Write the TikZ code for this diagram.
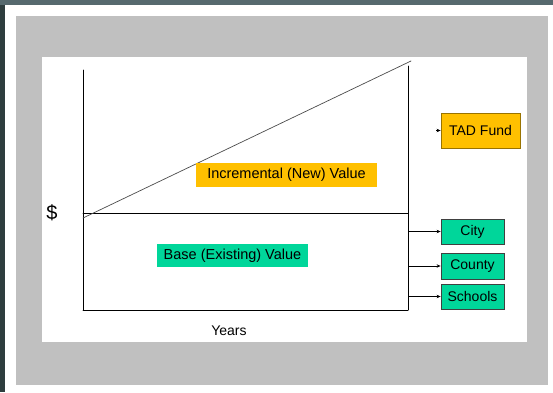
\documentclass[tikz,border=0pt]{standalone}
\usepackage{fontspec}
\setmainfont{Liberation Sans}
\usepackage{tikz}
\usepackage{tkz-euclide}
\usetikzlibrary{arrows.meta}
\definecolor{slate}{HTML}{56696E}
\definecolor{slatedark}{HTML}{2E3D3E}
\definecolor{panel}{HTML}{C0C0C0}
\definecolor{gold}{HTML}{FFC000}
\definecolor{jade}{HTML}{00D69A}
\tikzset{
    valuebox/.style={inner sep=0pt,font=\fontsize{14.5}{16}\selectfont},
    fundbox/.style={draw=black!75,fill=jade,line width=0.8pt,minimum width=63pt,minimum height=25pt,inner sep=0pt,font=\fontsize{14}{16}\selectfont},
    fundarrow/.style={-{Stealth[length=4pt,width=3.5pt]},line width=0.7pt}
}

\begin{document}
\begin{tikzpicture}[x=1pt,y=-1pt]
    \useasboundingbox (0,0) rectangle (553,392);
    \fill[slate] (0,0) rectangle (553,392);
    \fill[slatedark] (0,5) rectangle (5,392);
    \fill[white] (5,5) rectangle (553,392);
    \fill[panel] (16,16) rectangle (548,385);
    \fill[white] (42,57) rectangle (527,342);
    \tkzDefPoints{83/70/T,83/310/O,408/310/X,408/66/U,83/213/L,408/213/R,83/218/S,411/61/E}
    \tkzDrawSegments[line width=0.8pt](T,O O,X X,U L,R)
    \tkzDrawSegment[line width=0.7pt,black!70](S,E)
    \node[valuebox,fill=gold,minimum width=181pt,minimum height=24pt] (incr) at (286.5,175) {Incremental (New) Value};
    \node[valuebox,fill=jade,minimum width=151pt,minimum height=23pt] (base) at (232.5,255.5) {Base (Existing) Value};
    \node[font=\fontsize{20}{22}\selectfont] (dollar) at (52,213) {\$};
    \node[font=\fontsize{14}{16}\selectfont] (years) at (229,331) {Years};
    \node[fundbox,fill=gold,draw=gold!60!black,minimum width=79pt,minimum height=35pt] (tad) at (480.5,130.5) {TAD Fund};
    \node[fundbox] (city) at (472.5,231.5) {City};
    \node[fundbox,minimum height=26pt] (county) at (472.5,266) {County};
    \node[fundbox] (schools) at (472.5,296.5) {Schools};
    \tkzDefPoints{436/130.5/A,408/231.5/B,408/266/C,408/296.5/D}
    \draw[fundarrow] (A) -- (tad.west);
    \draw[fundarrow] (B) -- (city.west);
    \draw[fundarrow] (C) -- (county.west);
    \draw[fundarrow] (D) -- (schools.west);
\end{tikzpicture}
\end{document}
